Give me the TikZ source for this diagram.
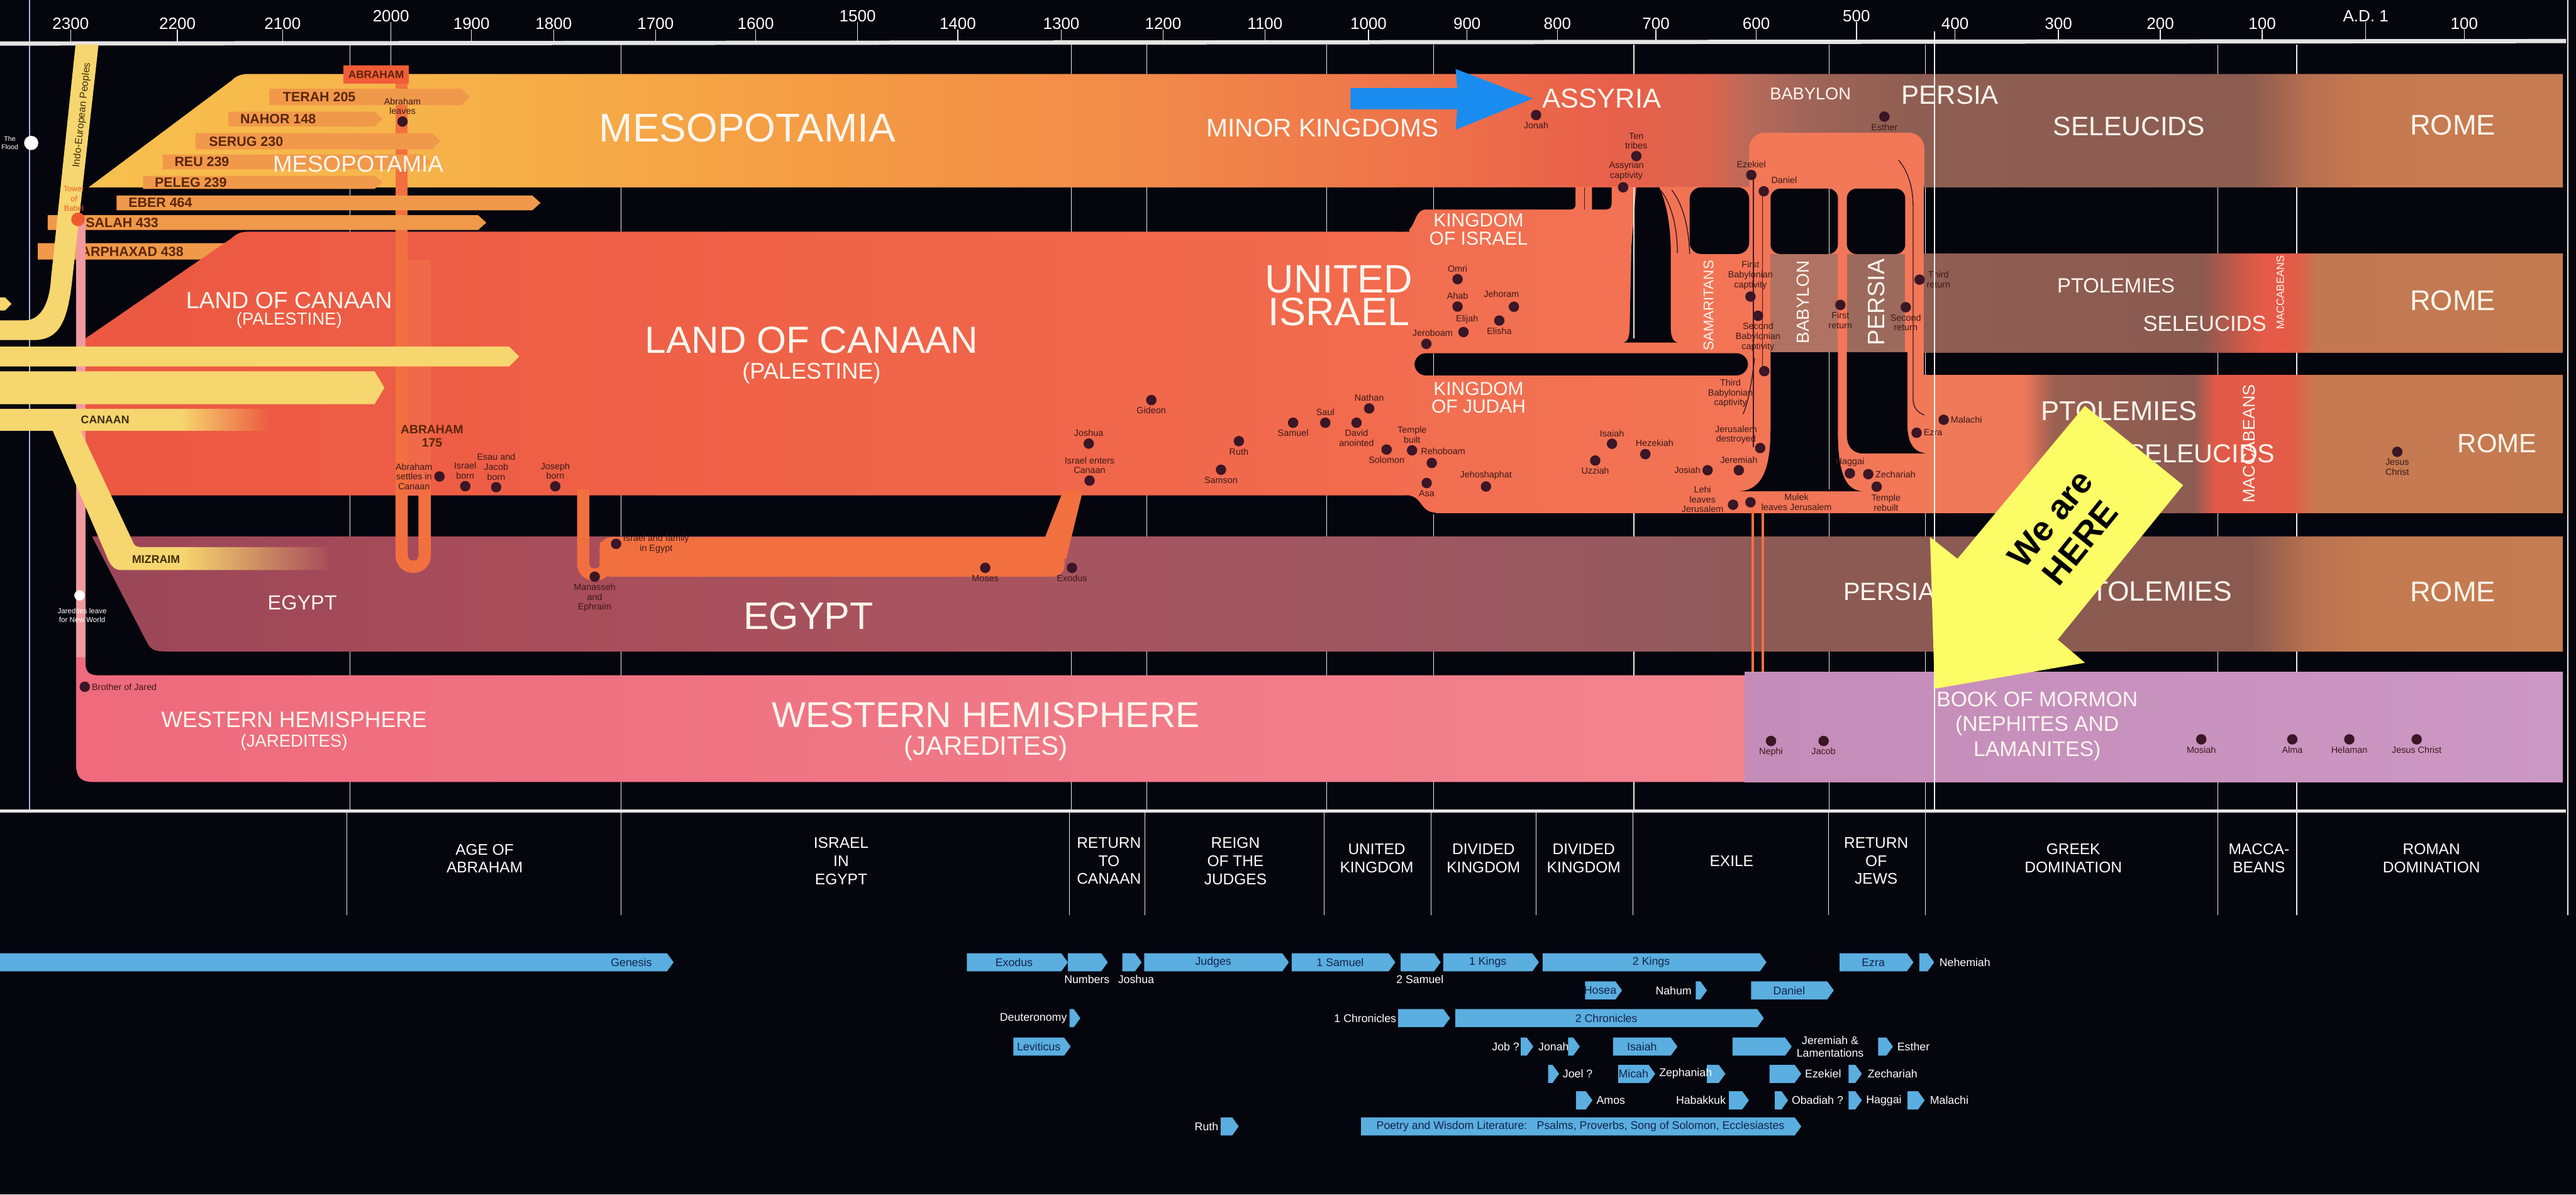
\documentclass[tikz,border=0pt]{standalone}
\usepackage{fontspec}
\setmainfont{Liberation Sans}
\usetikzlibrary{positioning}

\definecolor{bg}{HTML}{05050E}
\definecolor{axiscol}{HTML}{E4E4E4}
\definecolor{leftline}{HTML}{A8B8E0}
\definecolor{labwhite}{HTML}{FFF6EE}
\definecolor{yel}{HTML}{F6D66E}
\definecolor{yeltxt}{HTML}{3E2C0C}
\definecolor{barorange}{HTML}{F1994A}
\definecolor{nametxt}{HTML}{5A2608}
\definecolor{dotcol}{HTML}{3A1626}
\definecolor{dottxt}{HTML}{3C1818}
\definecolor{zoneA}{HTML}{F26E50}
\definecolor{zoneB}{HTML}{F27858}
\definecolor{canA}{HTML}{EC5842}
\definecolor{canB}{HTML}{F26C4E}
\definecolor{canstrip}{HTML}{F06A4A}
\definecolor{babbrown}{HTML}{B07262}
\definecolor{perbrown}{HTML}{9C6A5C}
\definecolor{abrorange}{HTML}{F25C38}
\definecolor{abrstrip}{HTML}{F2703F}
\definecolor{whcol}{HTML}{F09AA0}
\definecolor{whA}{HTML}{EE6A7C}
\definecolor{whB}{HTML}{F2848E}
\definecolor{bomA}{HTML}{C48CB8}
\definecolor{bomB}{HTML}{CC98C4}
\definecolor{bookblue}{HTML}{5AAEE0}
\definecolor{booktxt}{HTML}{14244A}
\definecolor{herey}{HTML}{FCFC66}
\definecolor{arrowblue}{HTML}{1A8CF0}
\definecolor{babelred}{HTML}{F05A30}
% Mesopotamia band
\definecolor{mA}{HTML}{F7C04E}\definecolor{mB}{HTML}{F6B048}\definecolor{mC}{HTML}{F59C44}
\definecolor{mD}{HTML}{F18A4A}\definecolor{mE}{HTML}{EE704A}\definecolor{mF}{HTML}{E8604A}
\definecolor{mG}{HTML}{DC644E}\definecolor{mH}{HTML}{B86A5A}\definecolor{mI}{HTML}{A06458}
\definecolor{mJ}{HTML}{8E5E52}\definecolor{mK}{HTML}{8C5C50}\definecolor{mL}{HTML}{B87050}
\definecolor{mM}{HTML}{C67A50}\definecolor{mN}{HTML}{C87C52}
% Egypt band
\definecolor{eA}{HTML}{9A4658}\definecolor{eB}{HTML}{A84C5A}\definecolor{eC}{HTML}{A85460}
\definecolor{eD}{HTML}{9C5862}\definecolor{eE}{HTML}{925A5C}\definecolor{eF}{HTML}{8C5A54}
\definecolor{eG}{HTML}{8A5A50}\definecolor{eH}{HTML}{B87250}\definecolor{eI}{HTML}{C47A50}
\definecolor{eJ}{HTML}{C67C52}
% right hand bands
\definecolor{tA}{HTML}{905E52}\definecolor{tB}{HTML}{8A5A50}\definecolor{tC}{HTML}{D45A48}
\definecolor{tD}{HTML}{E65A48}\definecolor{tE}{HTML}{E25C48}\definecolor{tF}{HTML}{C27852}
\definecolor{tG}{HTML}{C47A50}
\definecolor{jA}{HTML}{F07A58}\definecolor{jB}{HTML}{EE7858}\definecolor{jC}{HTML}{9A6052}
\definecolor{jD}{HTML}{8C5C52}\definecolor{jE}{HTML}{E05A48}\definecolor{jF}{HTML}{E45C48}
\definecolor{jG}{HTML}{C67A52}\definecolor{jH}{HTML}{C47A50}

\pgfdeclarehorizontalshading{mesoshade}{100bp}{color(0bp)=(mA); color(25bp)=(mA);
  color(33.17bp)=(mB); color(39.81bp)=(mC); color(46.45bp)=(mD); color(52.42bp)=(mE);
  color(55.74bp)=(mF); color(57.74bp)=(mG); color(58.6bp)=(mH); color(59.73bp)=(mI);
  color(62.05bp)=(mJ); color(68.69bp)=(mK); color(69.85bp)=(mL); color(71.02bp)=(mM);
  color(75bp)=(mN); color(100bp)=(mN)}
\pgfdeclarehorizontalshading{egyshade}{100bp}{color(0bp)=(eA); color(25bp)=(eA);
  color(33.11bp)=(eB); color(43.09bp)=(eC); color(53.06bp)=(eD); color(57.71bp)=(eE);
  color(59.04bp)=(eF); color(68.68bp)=(eG); color(69.85bp)=(eH); color(71.01bp)=(eI);
  color(75bp)=(eJ); color(100bp)=(eJ)}
\pgfdeclarehorizontalshading{twoshade}{100bp}{color(0bp)=(tA); color(25bp)=(tA);
  color(46.72bp)=(tB); color(50.32bp)=(tC); color(51.61bp)=(tD); color(54.18bp)=(tE);
  color(55.72bp)=(tF); color(75bp)=(tG); color(100bp)=(tG)}
\pgfdeclarehorizontalshading{threeshade}{100bp}{color(0bp)=(jA); color(25bp)=(jA);
  color(32.84bp)=(jB); color(35.15bp)=(jC); color(46.08bp)=(jD); color(47.75bp)=(jE);
  color(53.79bp)=(jF); color(55.72bp)=(jG); color(75bp)=(jH); color(100bp)=(jH)}
\pgfdeclarehorizontalshading{canbar}{100bp}{color(0bp)=(yel); color(25bp)=(yel);
  color(58.3bp)=(yel); color(75bp)=(canA); color(100bp)=(canA)}
\pgfdeclarehorizontalshading{mizbar}{100bp}{color(0bp)=(yel); color(25bp)=(yel);
  color(48.2bp)=(yel); color(75bp)=(eB); color(100bp)=(eB)}

\begin{document}
\begin{tikzpicture}[x=0.03cm,y=-0.03cm]
  \tikzstyle{evdot}=[circle,fill=dotcol,minimum size=0.19cm,inner sep=0pt]
  \tikzstyle{lbl}=[text=dottxt,font=\fontsize{4.7}{5.1}\selectfont,align=center,inner sep=0.6pt]
  \tikzstyle{gapfill}=[fill=bg]
  \tikzstyle{sepline}=[white!85!gray,line width=0.45pt]
  \tikzstyle{bandlbl}=[text=labwhite,inner sep=0pt,align=center]
  \tikzstyle{period}=[text=white,font=\fontsize{8}{9.4}\selectfont,align=center,inner sep=0pt]
  \tikzstyle{booktx}=[text=booktxt,font=\fontsize{5.8}{6.4}\selectfont,inner sep=0pt]
  \tikzstyle{bookout}=[text=white,font=\fontsize{5.8}{6.4}\selectfont,inner sep=0pt,align=center]
  \tikzstyle{namefont}=[text=nametxt,font=\fontsize{7}{7}\selectfont\bfseries,inner sep=0pt,anchor=west]
  \tikzstyle{yearlbl}=[text=white,font=\fontsize{8.5}{8.5}\selectfont,inner sep=0pt]
  \tikzstyle{strip}=[abrstrip,line width=6.4pt]

  \useasboundingbox (0,0) rectangle (1568,727);
  \fill[bg] (0,0) rectangle (1568,727);

  % separators behind the bands
  \foreach \x in {213,378,652,698,807.5,872.5,994.5,1113.5,1172,1350,1398}
    \draw[sepline] (\x,27) -- (\x,493);
  \draw[sepline] (238,27) -- (238,40);
  \draw[sepline] (1563,0) -- (1563,557);
  \draw[leftline,line width=0.8pt] (18,0) -- (18,493);

  % time axis
  \draw[axiscol,line width=2.2pt] (0,26.5) -- (1562,25);
  \foreach \xx/\yy/\yr in {43/14.3/2300,108/14.3/2200,172/14.3/2100,238/9.7/2000,287/14.3/1900,
      337/14.3/1800,399/14.3/1700,460/14.3/1600,522/9.7/1500,583/14.3/1400,646/14.3/1300,
      708/14.3/1200,770/14.3/1100,833/14.3/1000,893/14.3/900,948/14.3/800,1008/14.3/700,
      1069/14.3/600,1130/9.7/500,1190/14.3/400,1253/14.3/300,1315/14.3/200,1377/14.3/100,
      1440/9.7/{A.D. 1},1500/14.3/100}{
    \node[yearlbl] (yr\xx) at (\xx,\yy) {\yr};
    \draw[sepline] (yr\xx.south) -- (\xx,25.5);
  }

  % Mesopotamia band
  \shade[shading=mesoshade] (54,114) -- (141,49) .. controls (144,46) and (147,45) .. (152,45)
    -- (1560,45) -- (1560,114) -- cycle;
  \draw[strip] (244.5,51) -- (244.5,160);
  \node[fill=abrorange,minimum width=1.2cm,minimum height=0.33cm,inner sep=0pt,
    text=nametxt,font=\fontsize{5.6}{6}\selectfont\bfseries] (abrbox) at (229,45.5) {ABRAHAM};
  \foreach \xa/\xb/\ya/\yb/\xt/\nm/\txt in {164/286/54/64/172/terah/TERAH 205,
      139/233/68/77/146/nahor/NAHOR 148,119/268/81/91/127/serug/SERUG 230,
      99/262/94/103/106/reu/REU 239,87/233/107/115/94/peleg/PELEG 239,
      71/329/119/128/78/eber/EBER 464,29/296/131/140/52/salah/SALAH 433,
      23/284/148/158/49/arphaxad/ARPHAXAD 438}{
    \fill[barorange] (\xa,\ya) -- (\xb-5,\ya) -- (\xb,{(\ya+\yb)/2}) -- (\xb-5,\yb) -- (\xa,\yb) -- cycle;
    \node[namefont] (\nm) at (\xt,{(\ya+\yb)/2}) {\txt};
  }

  % Land of Canaan
  \shade[left color=canA,right color=canB] (52,206) -- (141,145) .. controls (144,142) and (147,141) .. (152,141)
    -- (870,141) -- (870,301.5) -- (52,301.5) -- cycle;
  \fill[canstrip] (240.7,158) rectangle (262.2,301.5);

  % divided kingdoms and exile
  \shade[left color=zoneA,right color=zoneB] (858,114) rectangle (1171,312);
  \fill[zoneB,rounded corners=8] (1064.7,80.8) rectangle (1171.3,120);
  \shade[shading=twoshade] (1171,154.6) rectangle (1560,214.4);
  \shade[shading=threeshade] (1171,228.5) rectangle (1560,312);
  \fill[babbrown] (1077.7,154.6) rectangle (1118.7,214.4);
  \fill[perbrown] (1124.2,154.6) rectangle (1159.7,214.4);
  \fill[gapfill] (850,114) -- (959,114) -- (959,124) .. controls (959,127.5) and (957,127.5) .. (955,127.5)
    -- (868,127.5) .. controls (860,127.5) and (862,141) .. (854,141) -- (850,141) -- cycle;
  \fill[gapfill] (969,114) -- (981,114) -- (981,123) .. controls (981,127.5) and (979,127.5) .. (976,127.5)
    -- (969,127.5) -- cycle;
  \fill[gapfill] (996,114) -- (1010,114) .. controls (1015,125) and (1017,140) .. (1017,154) -- (1017,200)
    .. controls (1017,206) and (1019,208) .. (1021,208.5) -- (988,208.5)
    .. controls (991,208) and (992,205) .. (992,198) -- (993,150) -- cycle;
  \fill[gapfill,rounded corners=6] (1028.5,114) rectangle (1064.7,154.6);
  \fill[gapfill,rounded corners=5] (1077.7,114.8) rectangle (1118.7,154.6);
  \fill[gapfill,rounded corners=5] (1124.2,114.8) rectangle (1159.7,154.6);
  \fill[gapfill,rounded corners=6] (861,215) rectangle (1064,228.5);
  \fill[gapfill] (1077.7,214.4) -- (1118.7,214.4) -- (1118.7,262) .. controls (1118.7,290) and (1124,298.5) .. (1134,299)
    -- (1058.5,299) .. controls (1070,298.5) and (1077.7,290) .. (1077.7,262) -- cycle;
  \fill[gapfill] (1124.2,214.4) -- (1161,214.4) -- (1161,258) .. controls (1161,270) and (1165,275.5) .. (1173,276)
    -- (1134,276) .. controls (1128,276) and (1124.2,272) .. (1124.2,265) -- cycle;
  \fill[gapfill] (856,301.5) .. controls (866,301.5) and (864,312) .. (874,312) -- (874,313) -- (856,313) -- cycle;
  \draw[dotcol,line width=0.45pt] (964.5,114) -- (964.5,127.5);
  \draw[dotcol,line width=0.45pt] (1011,116) .. controls (1018,125) and (1021,140) .. (1021,154);
  \draw[dotcol,line width=0.45pt] (1017.5,115.6) .. controls (1025,125) and (1028,140) .. (1028.5,154.6);
  \draw[dotcol,line width=0.45pt] (1067.3,106) -- (1067.3,272);
  \draw[dotcol,line width=0.45pt] (1072.8,116) -- (1072.8,226);
  \draw[dotcol,line width=0.45pt] (1068,218) .. controls (1066,235) and (1064,245) .. (1061,252);
  \draw[dotcol,line width=0.45pt] (1155.6,97.4) .. controls (1162,105) and (1164.5,115) .. (1164.5,126.4)
    -- (1164.5,242.6) .. controls (1164.5,248) and (1167,251) .. (1171.3,252.6);
  \foreach \x/\ya/\yb in {872.5/114/127.5,872.5/215/228.5,994.5/114/206,1113.5/114.8/154.6,1113.5/214.4/298}
    \draw[sepline] (\x,\ya) -- (\x,\yb);

  % Egypt
  \shade[shading=egyshade] (56,326.5) -- (90,392) .. controls (92,395.5) and (95,396.5) .. (100,396.5)
    -- (1560,396.5) -- (1560,326.5) -- cycle;
  \draw[strip] (244.5,141) -- (244.5,338) .. controls (244.5,347.3) and (258.5,347.3) .. (258.5,338) -- (258.5,296);
  \draw[strip] (355,298) -- (355,343) .. controls (355,352) and (369,352) .. (369,343) -- (369,330);
  \fill[abrstrip,rounded corners=6] (365,327) rectangle (648,351);
  \fill[abrstrip] (631,340) -- (647,299) -- (659,299) -- (649,340) -- cycle;
  \draw[abrstrip,line width=1.2pt] (1067,306) -- (1067,411);
  \draw[abrstrip,line width=1.2pt] (1073,306) -- (1073,411);

  % Western hemisphere and Book of Mormon
  \fill[whcol] (46.5,133) rectangle (52,412);
  \shade[left color=whA,right color=whB] (46.5,400) -- (46.5,466) .. controls (46.5,474) and (50,476) .. (58,476)
    -- (1062,476) -- (1062,411) -- (60,411) .. controls (54,411) and (52,409) .. (52,403) -- (52,400) -- cycle;
  \shade[left color=bomA,right color=bomB] (1062,409) rectangle (1560,476);

  % early peoples (yellow)
  \fill[yel] (46,27) -- (60,27) -- (44,170) .. controls (41,198) and (35,207) .. (20,207) -- (0,207)
    -- (0,195) -- (15,195) .. controls (24,195) and (30,186) .. (31,170) -- cycle;
  \fill[yel] (0,181) -- (3,181) -- (7,185) -- (3,189) -- (0,189) -- cycle;
  \fill[yel] (0,211) -- (310,211) -- (316,217) -- (310,223) -- (0,223) -- cycle;
  \fill[yel] (0,226) -- (228,226) -- (234,236) -- (228,246) -- (0,246) -- cycle;
  \shade[shading=canbar] (0,249) rectangle (165,262);
  \shade[shading=mizbar] (32,262) -- (49,262) -- (81,330) .. controls (82,333) and (84,333) .. (88,333)
    -- (200,333) -- (200,347) -- (74,347) .. controls (70,347) and (68,345) .. (66,341) -- cycle;
  \node[text=yeltxt,font=\fontsize{5.2}{5.2}\selectfont,rotate=84,inner sep=0pt] (indo) at (50,70) {Indo-European Peoples};
  \node[text=yeltxt,font=\fontsize{5.8}{6}\selectfont\bfseries,inner sep=0pt] (canaanbar) at (64,255.5) {CANAAN};
  \node[text=yeltxt,font=\fontsize{5.8}{6}\selectfont\bfseries,inner sep=0pt] (mizraim) at (95,340.5) {MIZRAIM};

  % markers on the far left
  \node[circle,fill=white,minimum size=0.26cm,inner sep=0pt] (flood) at (19,87) {};
  \node[text=white,font=\fontsize{3.5}{4}\selectfont,align=center,inner sep=0pt] (floodl) at (6,87) {The\\Flood};
  \node[circle,fill=babelred,minimum size=0.25cm,inner sep=0pt] (babel) at (47.5,133.5) {};
  \node[text=babelred,font=\fontsize{4}{5}\selectfont,align=center,inner sep=0pt] (babell) at (45,121) {Tower\\of\\Babel};
  \node[circle,fill=white,minimum size=0.19cm,inner sep=0pt] (jaredleave) at (48.4,362.4) {};
  \node[text=white,font=\fontsize{3.8}{4.4}\selectfont,align=center,inner sep=0pt] (jaredleavel) at (50,374.5) {Jaredites leave\\for New World};
  \node[evdot,label={[lbl]right:Brother of Jared}] (brjared) at (51.6,418) {};

  % band names
  \node[bandlbl,font=\fontsize{20.9}{21}\selectfont] (meso) at (455,78) {MESOPOTAMIA};
  \node[bandlbl,font=\fontsize{12}{12}\selectfont] (mesosm) at (218,100) {MESOPOTAMIA};
  \node[bandlbl,font=\fontsize{13.3}{14}\selectfont] (minor) at (805,78) {MINOR KINGDOMS};
  \node[bandlbl,font=\fontsize{14.2}{15}\selectfont] (assyria) at (975,60) {ASSYRIA};
  \node[bandlbl,font=\fontsize{8.9}{9}\selectfont] (babtop) at (1102,57) {BABYLON};
  \node[bandlbl,font=\fontsize{13.7}{14}\selectfont] (pertop) at (1187,58) {PERSIA};
  \node[bandlbl,font=\fontsize{13.9}{14}\selectfont] (selA) at (1296,77) {SELEUCIDS};
  \node[bandlbl,font=\fontsize{14.8}{15}\selectfont] (romeA) at (1493,76) {ROME};
  \node[bandlbl,font=\fontsize{12.2}{12}\selectfont] (canaansm) at (176,183) {LAND OF CANAAN};
  \node[bandlbl,font=\fontsize{9}{9}\selectfont] (palsm) at (176,195) {(PALESTINE)};
  \node[bandlbl,font=\fontsize{19.7}{20}\selectfont] (canaan) at (494,207) {LAND OF CANAAN};
  \node[bandlbl,font=\fontsize{11.8}{12}\selectfont] (pal) at (494,227) {(PALESTINE)};
  \node[bandlbl,font=\fontsize{20.6}{17}\selectfont] (united) at (815,180) {UNITED\\ISRAEL};
  \node[bandlbl,font=\fontsize{9.8}{9.4}\selectfont] (kisrael) at (900,139.5) {KINGDOM\\OF ISRAEL};
  \node[bandlbl,font=\fontsize{9.8}{9.4}\selectfont] (kjudah) at (900,242) {KINGDOM\\OF JUDAH};
  \node[bandlbl,font=\fontsize{7.3}{7}\selectfont,rotate=90] (samar) at (1040,186) {SAMARITANS};
  \node[bandlbl,font=\fontsize{9.1}{9}\selectfont,rotate=90] (babv) at (1097.5,184) {BABYLON};
  \node[bandlbl,font=\fontsize{12.3}{12}\selectfont,rotate=90] (perv) at (1142,184) {PERSIA};
  \node[bandlbl,font=\fontsize{10.7}{11}\selectfont] (ptolB) at (1288,174) {PTOLEMIES};
  \node[bandlbl,font=\fontsize{11.3}{11}\selectfont] (selB) at (1342,197) {SELEUCIDS};
  \node[bandlbl,font=\fontsize{5.5}{6}\selectfont,rotate=90] (maccB) at (1388,178) {MACCABEANS};
  \node[bandlbl,font=\fontsize{14.8}{15}\selectfont] (romeB) at (1493,183) {ROME};
  \node[bandlbl,font=\fontsize{14.2}{14}\selectfont] (ptolC) at (1290,250) {PTOLEMIES};
  \node[bandlbl,font=\fontsize{13.5}{14}\selectfont] (selC) at (1340,276) {SELEUCIDS};
  \node[bandlbl,font=\fontsize{8.8}{9}\selectfont,rotate=90] (maccC) at (1369,270) {MACCABEANS};
  \node[bandlbl,font=\fontsize{13.7}{14}\selectfont] (romeC) at (1520,270) {ROME};
  \node[bandlbl,font=\fontsize{10.6}{11}\selectfont] (egyptsm) at (184,367) {EGYPT};
  \node[bandlbl,font=\fontsize{19.9}{20}\selectfont] (egypt) at (492,375) {EGYPT};
  \node[bandlbl,font=\fontsize{13}{13}\selectfont] (perD) at (1150,360) {PERSIA};
  \node[bandlbl,font=\fontsize{14.5}{15}\selectfont] (ptolD) at (1310,360) {PTOLEMIES};
  \node[bandlbl,font=\fontsize{14.8}{15}\selectfont] (romeD) at (1493,360) {ROME};
  \node[bandlbl,font=\fontsize{11.6}{12}\selectfont] (whsm) at (179,438) {WESTERN HEMISPHERE};
  \node[bandlbl,font=\fontsize{9}{9}\selectfont] (jarsm) at (179,452) {(JAREDITES)};
  \node[bandlbl,font=\fontsize{18.7}{19}\selectfont] (wh) at (600,435) {WESTERN HEMISPHERE};
  \node[bandlbl,font=\fontsize{13.8}{14}\selectfont] (jar) at (600,455.5) {(JAREDITES)};
  \node[bandlbl,font=\fontsize{11}{12.8}\selectfont] (bom) at (1240,442) {BOOK OF MORMON\\(NEPHITES AND\\LAMANITES)};

  % people and events
  \node[evdot,label={[lbl]above:{Abraham\\leaves}}] (abrleaves) at (245,74) {};
  \node[text=nametxt,font=\fontsize{6.3}{7}\selectfont\bfseries,align=center,inner sep=0pt] (abr175) at (263,265.5) {ABRAHAM\\175};
  \node[evdot,label={[lbl]left:{Abraham\\settles in\\Canaan}}] (abrsettles) at (267.5,290) {};
  \node[evdot,label={[lbl]above:{Israel\\born}}] (israelborn) at (283.2,295.9) {};
  \node[evdot,label={[lbl]above:{Esau and\\Jacob\\born}}] (esau) at (302,296.5) {};
  \node[evdot,label={[lbl]above:{Joseph\\born}}] (joseph) at (338,296) {};
  \node[evdot,label={[lbl]right:{Israel and family\\in Egypt}}] (israelfam) at (375,331) {};
  \node[evdot,label={[lbl]below:{Manasseh\\and\\Ephraim}}] (manasseh) at (362,351) {};
  \node[evdot,label={[lbl]below:Moses}] (moses) at (599.7,345.6) {};
  \node[evdot,label={[lbl]below:Exodus}] (exodus) at (652.5,345.6) {};
  \node[evdot,label={[lbl]above:Joshua}] (joshua) at (662.7,270) {};
  \node[evdot,label={[lbl]above:{Israel enters\\Canaan}}] (enters) at (663.2,292.5) {};
  \node[evdot,label={[lbl]below:Gideon}] (gideon) at (700.8,243.5) {};
  \node[evdot,label={[lbl]below:Ruth}] (ruth) at (754.1,268.5) {};
  \node[evdot,label={[lbl]below:Samson}] (samson) at (743.2,285.9) {};
  \node[evdot,label={[lbl]below:Samuel}] (samuel) at (787.1,257.3) {};
  \node[evdot,label={[lbl]above:Saul}] (saul) at (806.7,257.3) {};
  \node[evdot,label={[lbl]above:Nathan}] (nathan) at (833.4,248.6) {};
  \node[evdot,label={[lbl]below:{David\\anointed}}] (david) at (825.7,257.3) {};
  \node[evdot,label={[lbl]below:Solomon}] (solomon) at (844,273.6) {};
  \node[evdot,label={[lbl]above:{Temple\\built}}] (templeb) at (859.5,274.1) {};
  \node[evdot] (rehoboam) at (871.5,281.8) {};
  \node[lbl,anchor=west] (rehoboaml) at (864,274.6) {Rehoboam};
  \node[evdot,label={[lbl]below:Asa}] (asa) at (868.4,294) {};
  \node[evdot,label={[lbl]above:Jehoshaphat}] (jehosh) at (904.5,296.1) {};
  \node[evdot,label={[lbl]above:Omri}] (omri) at (887.2,169.9) {};
  \node[evdot,label={[lbl]above:Ahab}] (ahab) at (887.2,186.6) {};
  \node[evdot] (jehoram) at (921.5,186.7) {};
  \node[lbl] (jehoraml) at (913.9,179) {Jehoram};
  \node[evdot] (elijah) at (890.8,202.1) {};
  \node[lbl] (elijahl) at (893,194.3) {Elijah};
  \node[evdot,label={[lbl]below:Elisha}] (elisha) at (912.6,195.1) {};
  \node[evdot] (jeroboam) at (868.2,209.3) {};
  \node[lbl] (jeroboaml) at (872,202.7) {Jeroboam};
  \node[evdot,label={[lbl]below:Jonah}] (jonah) at (935,70) {};
  \node[evdot,label={[lbl]above:{Ten\\tribes}}] (tentribes) at (996,95) {};
  \node[evdot] (assyrcap) at (988,114) {};
  \node[lbl] (assyrcapl) at (990,104) {Assyrian\\captivity};
  \node[evdot,label={[lbl]below:Esther}] (esther) at (1147,71) {};
  \node[evdot,label={[lbl]above:Ezekiel}] (ezekiel) at (1066,106.5) {};
  \node[evdot] (daniel) at (1073.6,116.4) {};
  \node[lbl] (daniell) at (1086,109.8) {Daniel};
  \node[evdot,label={[lbl]above:Isaiah}] (isaiah) at (981.2,270.1) {};
  \node[evdot,label={[lbl]below:Uzziah}] (uzziah) at (971,280.3) {};
  \node[evdot] (hezekiah) at (1001.5,276.4) {};
  \node[lbl] (hezekiahl) at (1007.1,269.5) {Hezekiah};
  \node[evdot,label={[lbl]left:Josiah}] (josiah) at (1039.4,286.2) {};
  \node[evdot,label={[lbl]above:Jeremiah}] (jeremiah) at (1058.4,286.2) {};
  \node[evdot] (jerdest) at (1071.4,272.7) {};
  \node[lbl] (jerdestl) at (1056.7,264.7) {Jerusalem\\destroyed};
  \node[evdot] (lehi) at (1054.9,307.2) {};
  \node[lbl] (lehil) at (1036.3,303.9) {Lehi\\leaves\\Jerusalem};
  \node[evdot] (mulek) at (1065.5,305.7) {};
  \node[lbl] (mulekl) at (1093.5,305.7) {Mulek\\leaves Jerusalem};
  \node[evdot,label={[lbl]above:Haggai}] (haggai) at (1126,288.1) {};
  \node[evdot,label={[lbl]right:Zechariah}] (zechariah) at (1137.2,288.6) {};
  \node[evdot] (templer) at (1142.3,296.2) {};
  \node[lbl] (templerl) at (1148,306.1) {Temple\\rebuilt};
  \node[evdot,label={[lbl]right:Ezra}] (ezra) at (1166.6,263.4) {};
  \node[evdot,label={[lbl]right:Malachi}] (malachi) at (1183.1,255.5) {};
  \node[evdot,label={[lbl]above:{First\\Babylonian\\captivity}}] (firstbab) at (1065.5,180.5) {};
  \node[evdot,label={[lbl]below:{Second\\Babylonian\\captivity}}] (secondbab) at (1070.1,192.2) {};
  \node[evdot] (thirdbab) at (1073.9,225.9) {};
  \node[lbl] (thirdbabl) at (1053.3,239.4) {Third\\Babylonian\\captivity};
  \node[evdot,label={[lbl]below:{First\\return}}] (firstret) at (1120.2,185.6) {};
  \node[evdot,label={[lbl]below:{Second\\return}}] (secondret) at (1160,187) {};
  \node[evdot,label={[lbl]right:{Third\\return}}] (thirdret) at (1168.4,170.2) {};
  \node[evdot,label={[lbl]below:{Jesus\\Christ}}] (jesusc) at (1459.2,275) {};
  \node[evdot,label={[lbl]below:Nephi}] (nephi) at (1078,451) {};
  \node[evdot,label={[lbl]below:Jacob}] (jacob) at (1110,451) {};
  \node[evdot,label={[lbl]below:Mosiah}] (mosiah) at (1339.9,450) {};
  \node[evdot,label={[lbl]below:Alma}] (alma) at (1395.3,450) {};
  \node[evdot,label={[lbl]below:Helaman}] (helaman) at (1430,450) {};
  \node[evdot,label={[lbl]below:Jesus Christ}] (jesusb) at (1471,450) {};

  % present-time line
  \draw[white,line width=0.8pt] (1177.6,19) -- (1177.6,493);

  % periods
  \draw[axiscol,line width=1.6pt] (0,493.5) -- (1562,493.5);
  \foreach \x in {211,378,651,697,806,871,935,994,1113,1172,1350,1398}
    \draw[sepline] (\x,494) -- (\x,557);
  \node[period] (pabr) at (295,522.5) {AGE OF\\ABRAHAM};
  \node[period] (pegy) at (512,524) {ISRAEL\\IN\\EGYPT};
  \node[period] (pret) at (675,524) {RETURN\\TO\\CANAAN};
  \node[period] (pjud) at (752,524) {REIGN\\OF THE\\JUDGES};
  \node[period] (punit) at (838,522.5) {UNITED\\KINGDOM};
  \node[period] (pdivA) at (903,522.5) {DIVIDED\\KINGDOM};
  \node[period] (pdivB) at (964,522.5) {DIVIDED\\KINGDOM};
  \node[period] (pexile) at (1054,524) {EXILE};
  \node[period] (pjews) at (1142,524) {RETURN\\OF\\JEWS};
  \node[period] (pgreek) at (1262,522.5) {GREEK\\DOMINATION};
  \node[period] (pmacc) at (1375,522.5) {MACCA-\\BEANS};
  \node[period] (proman) at (1480,522.5) {ROMAN\\DOMINATION};

  % books of the scriptures
  \foreach \xa/\xb/\yy/\nm/\txt in {0/410/585.7/genesis/{},588.5/650/585.7/exodusb/Exodus,
      650/674.3/585.7/numbers/{},683.2/694.9/585.7/joshuab/{},696.5/784.5/585.7/judges/Judges,
      786.2/849.3/585.7/samA/1 Samuel,852.6/876.9/585.7/samB/{},878.5/936.7/585.7/kingsA/1 Kings,
      939/1075.2/585.7/kingsB/2 Kings,1119.8/1164.7/585.7/ezrab/Ezra,1168.3/1177.3/585.7/nehemiah/{},
      964.8/987.3/602.8/hosea/Hosea,1032.2/1039/602.8/nahum/{},1065.9/1116.2/602.8/danielb/Daniel,
      651/657.6/619.7/deut/{},851/882.6/619.7/chronA/{},885.9/1073.6/619.7/chronB/2 Chronicles,
      616.8/651.7/637/leviticus/Leviticus,925.7/933.3/637/job/{},954.5/961.6/637/jonahb/{},
      981.9/1021/637/isaiahb/Isaiah,1054.6/1090.6/637/jeremiahb/{},1143.2/1152.2/637/estherb/{},
      942.3/949/653.6/joel/{},985/1007.5/653.6/micah/Micah,1039/1050.2/653.6/zeph/{},
      1077.1/1096.4/653.6/ezekielb/{},1125.2/1133.3/653.6/zechb/{},
      959.4/969.3/669.7/amos/{},1052.4/1064.5/669.7/habakkuk/{},1080.3/1088.4/669.7/obadiah/{},
      1125.2/1133.3/669.7/haggaib/{},1161.1/1171.5/669.7/malachib/{},
      743/754/685.6/ruthb/{},828.4/1096.4/685.6/poetry/{}}{
    \fill[bookblue] (\xa,\yy-5.5) -- (\xb-4,\yy-5.5) -- (\xb,\yy) -- (\xb-4,\yy+5.5) -- (\xa,\yy+5.5) -- cycle;
    \node[booktx] (\nm) at ({(\xa+\xb)/2-2},\yy) {\txt};
  }
  \node[booktx,anchor=east] (genesisl) at (397,585.7) {Genesis};
  \node[booktx] (poetryl) at (962,685.6) {Poetry and Wisdom Literature:\hspace{5pt}Psalms, Proverbs, Song of Solomon, Ecclesiastes};
  \foreach \xx/\yy/\nm/\txt in {661.6/596.2/numbersl/Numbers,691.5/596.2/joshual/Joshua,
      864.3/596.2/samBl/2 Samuel,1196/585.7/nehemiahl/Nehemiah,1018.7/602.8/nahuml/Nahum,
      629/619.7/deutl/Deuteronomy,831/619.7/chronAl/1 Chronicles,916.5/637/jobl/Job ?,
      945.7/637/jonahl/Jonah,1114/637/jeremiahl/{Jeremiah \&\\Lamentations},1164.7/637/estherl/Esther,
      960.3/653.6/joell/Joel ?,1026/653.6/zephl/Zephaniah,1109.7/653.6/ezekiell/Ezekiel,
      1152/653.6/zechl/Zechariah,980.5/669.7/amosl/Amos,1035.3/669.7/habakkukl/Habakkuk,
      1106.3/669.7/obadiahl/Obadiah ?,1146.7/669.7/haggail/Haggai,1186.5/669.7/malachil/Malachi,
      734.4/685.6/ruthl/Ruth}
    \node[bookout] (\nm) at (\xx,\yy) {\txt};

  % pointers
  \fill[arrowblue] (822,53.5) -- (887,53.5) -- (886,42) -- (933,60) -- (886,79) -- (887,66.5) -- (822,66.5) -- cycle;
  \fill[herey] (1269,247) -- (1191.5,340.1) -- (1174.8,326.9) -- (1177.6,419.2) -- (1269.1,403.4)
    -- (1252.5,389.3) -- (1328.8,295.3) -- cycle;
  \node[text=black,font=\fontsize{18}{20}\selectfont\bfseries,align=center,rotate=51] (here) at (1257,323) {We are\\HERE};
\end{tikzpicture}
\end{document}
